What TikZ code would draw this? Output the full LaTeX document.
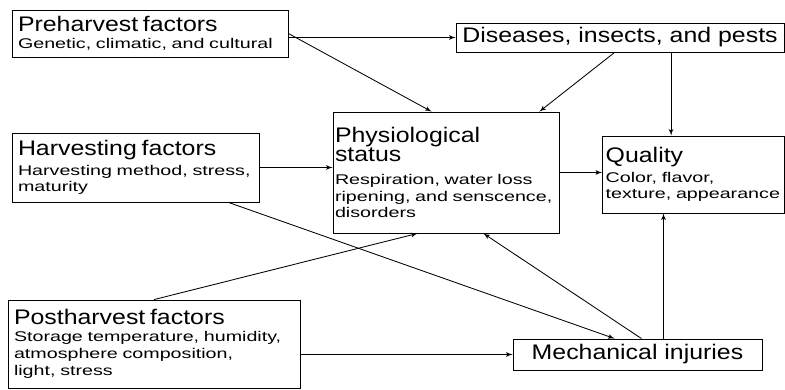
\documentclass[tikz,border=0pt]{standalone}
\usepackage{fontspec}
\setmainfont{Liberation Sans}
\newfontfamily\headfont[FakeStretch=1.18]{Liberation Sans}
\newfontfamily\bodyfont[FakeStretch=1.4]{Liberation Sans}
\newcommand{\boxtitle}[1]{{\headfont\fontsize{15}{16}\selectfont #1}}
\usetikzlibrary{arrows,positioning}
\hyphenpenalty=10000

\begin{document}
\begin{tikzpicture}[auto]
\tikzset{
    factorbox/.style={rectangle, draw=black, line width=0.6pt, align=left, inner xsep=0.15cm, inner ysep=0pt, font=\bodyfont\fontsize{10}{12}\selectfont},
    plainbox/.style={rectangle, draw=black, line width=0.6pt, align=center, inner sep=0pt, font=\headfont\fontsize{15}{16}\selectfont},
    myarrow/.style={->, >=latex', line width=0.6pt}
}
\useasboundingbox (0,0) rectangle (19.625,9.725);

\node[factorbox, text width=6.6cm, minimum height=1.175cm] (pre) at (3.75,8.8875) {\boxtitle{Preharvest factors}\\Genetic, climatic, and cultural};
\node[plainbox, minimum width=8.2cm, minimum height=0.725cm] (dis) at (15.5,8.7875) {Diseases, insects, and pests};
\node[factorbox, text width=5.875cm, minimum height=1.725cm] (harv) at (3.3875,5.5375) {\boxtitle{Harvesting factors}\\[2pt]Harvesting method, stress,\\maturity};
\node[factorbox, inner xsep=0.05cm, text width=5.55cm, minimum height=3.025cm] (phys) at (11.15,5.4125) {\boxtitle{Physiological}\\\boxtitle{status}\\[4pt]Respiration, water loss\\ripening, and senscence,\\disorders};
\node[factorbox, inner xsep=0.08cm, text width=4.39cm, minimum height=1.925cm] (qual) at (17.3375,5.3625) {\boxtitle{Quality}\\[2pt]Color, flavor,\\texture, appearance};
\node[factorbox, text width=7.0cm, minimum height=2.2cm] (post) at (3.85,1.125) {\boxtitle{Postharvest factors}\\Storage temperature, humidity,\\atmosphere composition,\\light, stress};
\node[plainbox, minimum width=6.225cm, minimum height=0.775cm] (mech) at (15.9375,0.8625) {Mechanical injuries};
% arrow ends are shifted along the box edges to meet the boxes where the scan does

\draw[myarrow] (pre.east |- dis.west) -- (dis.west);
\draw[myarrow] (pre.east) -- ([xshift=2.475cm]phys.north west);
\draw[myarrow] ([xshift=3.975cm]dis.south west) -- ([xshift=-0.5cm]phys.north east);
\coordinate (qtop) at ([xshift=-0.56cm]qual.north);
\draw[myarrow] (dis.south -| qtop) -- (qtop);

\draw[myarrow] (harv.east) -- (harv.east -| phys.west);
\draw[myarrow] (phys.east) -- (phys.east -| qual.west);
\draw[myarrow] ([xshift=-0.775cm]harv.south east) -- ([xshift=2.55cm]mech.north west);
\draw[myarrow] (post.north) -- ([xshift=2.125cm]phys.south west);
\draw[myarrow] ([xshift=0.1cm]mech.north) -- ([xshift=-1.9cm]phys.south east);
\coordinate (qbot) at ([xshift=-0.75cm]qual.south);
\draw[myarrow] (mech.north -| qbot) -- (qbot);
\draw[myarrow] (mech.west -| post.east) -- (mech.west);

\end{tikzpicture}
\end{document}
